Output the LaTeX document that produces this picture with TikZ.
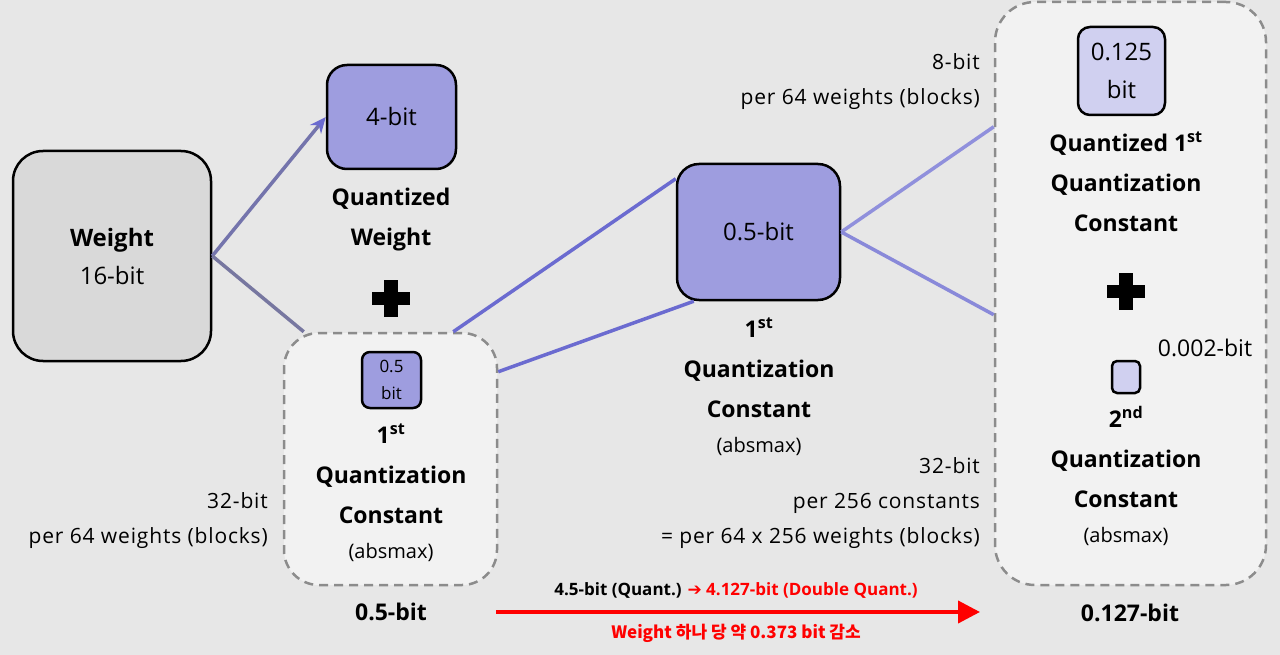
\documentclass[tikz,border=0pt]{standalone}
\usepackage{fontspec}
\setmainfont{Open Sans}
\newfontfamily\krfont{Noto Sans CJK KR}
\newfontfamily\symfont{DejaVu Sans}
\usetikzlibrary{arrows.meta}

\definecolor{bgcol}{HTML}{E7E7E7}
\definecolor{wcol}{HTML}{D9D9D9}
\definecolor{qcol}{HTML}{9E9DDF}
\definecolor{qlight}{HTML}{D0D0F0}
\definecolor{lncol}{HTML}{6B6BD0}
\definecolor{dashcol}{HTML}{8C8C8C}
\definecolor{boxfill}{HTML}{F2F2F2}

\tikzset{
  blk/.style={draw=black, line width=2.5pt, inner sep=0pt, align=center,
    font=\fontsize{24}{38}\selectfont},
  holder/.style={draw=dashcol, dash pattern=on 9pt off 6pt, line width=2.5pt,
    fill=boxfill, inner sep=0pt},
  lbl/.style={align=center, inner sep=0pt, anchor=north,
    font=\bfseries\fontsize{23}{40}\selectfont},
  sidenote/.style={align=right, anchor=east, inner sep=0pt,
    font=\fontsize{21}{35}\selectfont\addfontfeatures{LetterSpace=4}},
  link/.style={line width=3.5pt, draw=lncol},
}
\newcommand{\absm}{\\[-5pt]{\mdseries\fontsize{20}{36}\selectfont (absmax)}}

\begin{document}
\begin{tikzpicture}[x=1pt, y=-1pt]
  \useasboundingbox (0,0) rectangle (1280,655);
  \fill[bgcol] (0,0) rectangle (1280,655);

  % dashed holders
  \node[holder, rounded corners=35pt, minimum width=213pt, minimum height=252pt] (hold1) at (390.5,459) {};
  \node[holder, rounded corners=40pt, minimum width=271pt, minimum height=583pt] (hold2) at (1130.5,293.5) {};

  % weight and quantized weight
  \node[blk, fill=wcol, rounded corners=30pt, minimum width=198pt, minimum height=210pt] (w) at (112,256) {\textbf{Weight}\\16-bit};
  \node[blk, fill=qcol, rounded corners=20pt, minimum width=129pt, minimum height=104pt] (qw) at (391.5,117) {4-bit};
  \node[lbl] (qwlbl) at (391,188) {Quantized\\Weight};
  \coordinate (plus1) at (391,298);

  % first constant, inside holder
  \node[blk, fill=qcol, rounded corners=8pt, minimum width=59pt, minimum height=56pt, font=\fontsize{17}{27}\selectfont] (c1) at (391.5,380) {0.5\\bit};
  \node[lbl] (c1lbl) at (391,424) {1\textsuperscript{st}\\Quantization\\Constant\absm};
  \node[inner sep=0pt, font=\bfseries\fontsize{23}{30}\selectfont] (sum1) at (391,612) {0.5-bit};
  \node[sidenote] (n1) at (268,521) {32-bit\\per 64 weights (blocks)};

  % first constant, alone
  \node[blk, fill=qcol, rounded corners=22pt, minimum width=163pt, minimum height=136pt] (mid) at (758.5,232) {0.5-bit};
  \node[lbl] (midlbl) at (759,318) {1\textsuperscript{st}\\Quantization\\Constant\absm};
  \node[sidenote] (n2) at (980,82) {8-bit\\per 64 weights (blocks)};
  \node[sidenote] (n3) at (980,503) {32-bit\\per 256 constants\\= per 64 x 256 weights (blocks)};

  % double quantization holder
  \node[blk, fill=qlight, rounded corners=12pt, minimum width=87pt, minimum height=88pt] (c2) at (1121.5,71) {0.125\\bit};
  \node[lbl] (c2lbl) at (1126,132) {Quantized 1\textsuperscript{st}\\Quantization\\Constant};
  \coordinate (plus2) at (1126,291);
  \node[inner sep=0pt, font=\fontsize{23}{30}\selectfont] (n4) at (1205,348) {0.002-bit};
  \node[blk, fill=qlight, rounded corners=5pt, minimum width=28pt, minimum height=32pt] (c3) at (1126,377) {};
  \node[lbl] (c3lbl) at (1126,406) {2\textsuperscript{nd}\\Quantization\\Constant\absm};
  \node[inner sep=0pt, font=\bfseries\fontsize{23}{30}\selectfont] (sum2) at (1130,613) {0.127-bit};

  % plus signs
  \foreach \p in {plus1, plus2} {
    \fill ([xshift=-19pt,yshift=-6.5pt]\p) rectangle ([xshift=19pt,yshift=6.5pt]\p);
    \fill ([xshift=-7pt,yshift=-18.5pt]\p) rectangle ([xshift=7pt,yshift=18.5pt]\p);
  }

  % connectors
  \draw[line width=3.5pt, draw=lncol!55!gray, -{Stealth[length=16pt, width=14pt, color=lncol]}] (w.east) -- (qw.west);
  \draw[line width=3.5pt, draw=lncol!40!gray] (w.east) -- ([xshift=21pt]hold1.north west);
  \draw[link] ([xshift=-45pt]hold1.north east) -- ([yshift=-16pt]mid.north west);
  \draw[link] ([yshift=-40pt]hold1.north east) -- ([xshift=18pt]mid.south west);
  \draw[link, draw=lncol!75] (mid.east) -- ([yshift=-126pt]hold2.north west);
  \draw[link, draw=lncol!80] (mid.east) -- ([yshift=-314pt]hold2.north west);

  % saving arrow
  \coordinate (rs) at (496,612);
  \coordinate (re) at (980,612);
  \draw[red, line width=4pt, -{Triangle[length=22pt, width=22pt]}] (rs) -- (re);
  \node[inner sep=0pt, font=\bfseries\fontsize{17}{20}\selectfont] (gain) at (736,590) {4.5-bit (Quant.) \textcolor{red}{{\symfont\bfseries ➔} 4.127-bit (Double Quant.)}};
  \node[inner sep=0pt, text=red, font=\krfont\bfseries\fontsize{17}{20}\selectfont] (save) at (736,633) {Weight 하나 당 약 0.373 bit 감소};
\end{tikzpicture}
\end{document}
